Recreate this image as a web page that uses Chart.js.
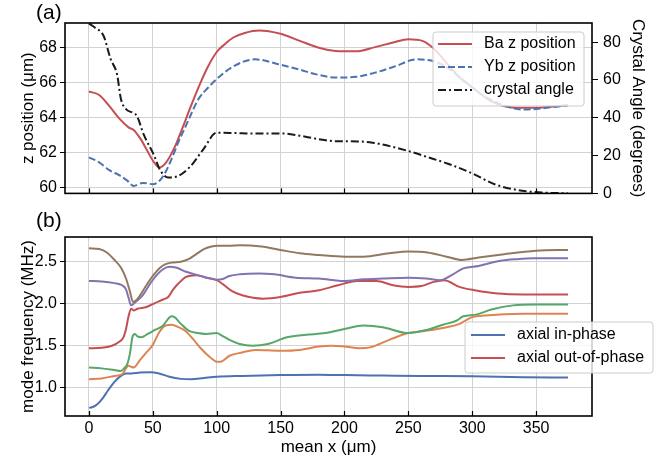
<!DOCTYPE html>
<html>
<head>
<meta charset="utf-8">
<script src="https://cdn.jsdelivr.net/npm/chart.js@4/dist/chart.umd.min.js"></script>
<style>
  body { margin: 0; background: #fff; }
  #wrap { position: relative; width: 672px; height: 466px; }
  canvas { position: absolute; left: 0; }
  #topChart { top: 0; }
  #bottomChart { top: 208px; }
</style>
</head>
<body>
<div id="wrap">
  <canvas id="topChart" width="672" height="208"></canvas>
  <canvas id="bottomChart" width="672" height="258"></canvas>
</div>
<script>
// Tick values
const xTicks = [0, 50, 100, 150, 200, 250, 300, 350];
const zTicks = [60, 62, 64, 66, 68];
const angleTicks = [0, 20, 40, 60, 80];
const freqTicks = [1.0, 1.5, 2.0, 2.5];

// (a) ion positions
const baX = [0, 8, 16, 24, 31, 35, 40, 45, 50, 55, 60, 67, 73, 80, 87, 93, 100, 107, 113, 122, 133, 150, 165, 180, 193, 209, 224, 238, 250, 261, 270, 279, 290, 300, 315, 334, 349, 365, 375];
const baZ = [65.5, 65.3, 64.66, 63.93, 63.45, 63.3, 62.83, 62.2, 61.55, 61.15, 61.4, 62.3, 63.38, 64.7, 65.95, 66.9, 67.76, 68.25, 68.59, 68.85, 68.99, 68.8, 68.4, 68.0, 67.82, 67.8, 68.04, 68.3, 68.49, 68.4, 67.95, 67.21, 66.3, 65.75, 64.93, 64.57, 64.57, 64.65, 64.72];

const ybX = [0, 8, 16, 24, 30, 35, 42, 50, 56, 60, 65, 70, 76, 86, 93, 100, 113, 130, 150, 165, 178, 193, 209, 224, 240, 256, 271, 282, 292, 303, 315, 327, 339, 350, 362, 375];
const ybZ = [61.73, 61.45, 61.0, 60.7, 60.4, 60.1, 60.27, 60.2, 60.45, 60.9, 61.7, 62.6, 63.56, 65.1, 65.7, 66.21, 66.94, 67.34, 67.03, 66.75, 66.48, 66.3, 66.34, 66.58, 66.95, 67.34, 67.21, 66.8, 66.21, 65.55, 65.02, 64.65, 64.47, 64.5, 64.6, 64.71];

const angX = [0, 5, 11.5, 17, 22, 25, 29, 35, 37.5, 43, 50.5, 55.7, 62, 69, 79, 89.5, 100, 115, 128, 152, 165, 178, 193, 210, 222, 250, 265, 281, 300, 318, 339, 354, 375];
const angDeg = [89.8, 87.5, 83.2, 71, 62.9, 50, 44.5, 42.5, 41, 30.9, 20.8, 12.3, 8.4, 9.0, 14.0, 23.3, 32.1, 31.9, 31.7, 31.7, 30.5, 28.9, 27.6, 27.5, 26.8, 22.4, 19.2, 15.7, 10.6, 4.7, 1.4, 0.5, 0];

// (b) mode frequencies
const inPhaseX = [0, 3, 7, 11, 15, 20, 25, 29, 33, 40, 48, 55, 63, 72, 80, 90, 100, 120, 150, 180, 200, 230, 260, 300, 340, 375];
const inPhase = [0.76, 0.77, 0.81, 0.88, 0.97, 1.07, 1.14, 1.17, 1.17, 1.18, 1.185, 1.17, 1.13, 1.105, 1.10, 1.115, 1.13, 1.14, 1.15, 1.155, 1.15, 1.145, 1.14, 1.135, 1.125, 1.12];

const orangeX = [0, 10, 20, 26, 29, 31, 33, 35, 40, 45, 50, 55, 60, 65, 70, 76, 82, 88, 95, 100, 103, 110, 120, 130, 150, 165, 180, 190, 200, 212, 220, 235, 250, 265, 280, 290, 300, 310, 340, 375];
const orangeF = [1.10, 1.11, 1.14, 1.16, 1.23, 1.26, 1.25, 1.24, 1.33, 1.42, 1.51, 1.66, 1.74, 1.75, 1.72, 1.67, 1.57, 1.46, 1.36, 1.31, 1.31, 1.38, 1.42, 1.45, 1.44, 1.45, 1.49, 1.50, 1.49, 1.47, 1.48, 1.57, 1.65, 1.68, 1.72, 1.76, 1.84, 1.86, 1.88, 1.88];

const greenX = [0, 10, 20, 25, 28, 30, 32, 34, 36, 38, 41, 46, 52, 58, 62, 64.5, 67, 72, 78, 85, 92, 100, 104, 110, 118, 128, 140, 155, 170, 185, 200, 215, 230, 250, 265, 277, 288, 293, 303, 315, 332, 350, 375];
const greenF = [1.24, 1.23, 1.21, 1.20, 1.24, 1.28, 1.40, 1.60, 1.64, 1.61, 1.60, 1.64, 1.69, 1.74, 1.82, 1.85, 1.84, 1.76, 1.68, 1.65, 1.64, 1.65, 1.62, 1.57, 1.52, 1.50, 1.52, 1.60, 1.63, 1.65, 1.70, 1.74, 1.72, 1.65, 1.69, 1.75, 1.80, 1.85, 1.87, 1.93, 1.98, 1.99, 1.99];

const outPhaseX = [0, 10, 18, 24, 27, 29, 31, 33, 35, 38, 45, 52, 58, 62, 66, 70, 76, 84, 92, 100, 105, 112, 120, 136, 150, 165, 180, 195, 210, 225, 238, 250, 260, 270, 278, 290, 302, 320, 340, 375];
const outPhase = [1.47, 1.475, 1.50, 1.55, 1.60, 1.70, 1.85, 1.94, 1.92, 1.94, 1.96, 2.01, 2.05, 2.08, 2.17, 2.24, 2.32, 2.34, 2.31, 2.28, 2.23, 2.15, 2.10, 2.06, 2.08, 2.13, 2.16, 2.22, 2.27, 2.27, 2.22, 2.20, 2.21, 2.26, 2.28, 2.20, 2.16, 2.12, 2.11, 2.11];

const purpleX = [0, 10, 20, 26, 29, 31, 33, 35, 38, 42, 48, 53, 58, 63, 68, 76, 85, 92, 100, 104, 110, 118, 133, 145, 162, 180, 200, 215, 230, 250, 264, 275, 285, 293, 305, 322, 335, 348, 375];
const purpleF = [2.27, 2.265, 2.245, 2.22, 2.17, 2.07, 1.98, 2.00, 2.04, 2.10, 2.24, 2.34, 2.41, 2.44, 2.43, 2.38, 2.34, 2.31, 2.285, 2.29, 2.33, 2.35, 2.36, 2.35, 2.31, 2.30, 2.27, 2.29, 2.30, 2.31, 2.30, 2.28, 2.35, 2.42, 2.45, 2.51, 2.53, 2.54, 2.54];

const brownX = [0, 8, 14, 20, 25, 29, 32, 34.5, 37, 40, 45, 50, 55, 60, 65, 72, 78, 84, 90, 96, 100, 110, 118, 135, 150, 165, 180, 200, 215, 235, 250, 265, 280, 292, 305, 325, 350, 375];
const brownF = [2.66, 2.65, 2.61, 2.52, 2.43, 2.30, 2.15, 2.02, 2.04, 2.10, 2.22, 2.33, 2.42, 2.47, 2.49, 2.50, 2.53, 2.59, 2.65, 2.68, 2.69, 2.69, 2.695, 2.68, 2.64, 2.60, 2.58, 2.56, 2.56, 2.60, 2.62, 2.61, 2.56, 2.52, 2.55, 2.59, 2.63, 2.64];

const FONT = '"Liberation Sans", Arial, sans-serif';
const GRID = '#d2d2d2';
const colors = {
    blue: '#4C72B0', orange: '#DD8452', green: '#55A868',
    red: '#C44E52', purple: '#8172B3', brown: '#937860'
};

Chart.defaults.font.family = FONT;
Chart.defaults.color = '#000';

const toPoints = (xs, ys) => xs.map((x, i) => ({ x: x, y: ys[i] }));

function line(label, xs, ys, color, extra) {
    return Object.assign({
        label: label,
        data: toPoints(xs, ys),
        borderColor: color,
        backgroundColor: color,
        borderWidth: 2,
        pointRadius: 0,
        cubicInterpolationMode: 'monotone',
        fill: false
    }, extra || {});
}

const fixedTicks = values => scale => { scale.ticks = values.map(v => ({ value: v })); };

// Frame, inward x ticks, panel letter and legend box
const framePlugin = {
    id: 'frame',
    afterDraw(chart, args, opts) {
        const { ctx, chartArea: a } = chart;
        ctx.save();
        ctx.strokeStyle = '#000';
        ctx.lineWidth = 1.2;
        chart.scales.x.ticks.forEach(t => {
            const px = Math.round(chart.scales.x.getPixelForValue(t.value)) + 0.5;
            ctx.beginPath();
            ctx.moveTo(px, a.bottom);
            ctx.lineTo(px, a.bottom - 5);
            ctx.stroke();
        });
        ctx.lineWidth = 1.6;
        ctx.strokeRect(a.left, a.top, a.right - a.left, a.bottom - a.top);

        ctx.fillStyle = '#000';
        ctx.font = '21px ' + FONT;
        ctx.textBaseline = 'middle';
        ctx.fillText(opts.letter, 36, opts.letterY);

        const lg = opts.legend;
        ctx.beginPath();
        if (ctx.roundRect) ctx.roundRect(lg.x, lg.y, lg.w, lg.h, 3);
        else ctx.rect(lg.x, lg.y, lg.w, lg.h);
        ctx.fillStyle = 'rgba(255,255,255,0.8)';
        ctx.fill();
        ctx.strokeStyle = '#cccccc';
        ctx.lineWidth = 1;
        ctx.stroke();

        ctx.font = '16px ' + FONT;
        let row = 0;
        chart.data.datasets.forEach(ds => {
            if (!ds.showInLegend) return;
            const cy = lg.y + lg.first + row * lg.step;
            ctx.strokeStyle = ds.borderColor;
            ctx.lineWidth = ds.borderWidth;
            ctx.setLineDash(ds.borderDash || []);
            ctx.beginPath();
            ctx.moveTo(lg.x + lg.sample, cy);
            ctx.lineTo(lg.x + lg.sample + 34, cy);
            ctx.stroke();
            ctx.setLineDash([]);
            ctx.fillStyle = '#000';
            ctx.fillText(ds.label, lg.x + lg.text, cy);
            row++;
        });
        ctx.restore();
    }
};

const tickFont = { size: 16, family: FONT };
const titleFont = { size: 17, family: FONT };

// Panel (a)
const topChart = new Chart(document.getElementById('topChart'), {
    type: 'line',
    data: {
        datasets: [
            line('Ba z position', baX, baZ, colors.red, { yAxisID: 'y', showInLegend: true, order: 3 }),
            line('Yb z position', ybX, ybZ, colors.blue, { yAxisID: 'y', borderDash: [7, 3], showInLegend: true, order: 2 }),
            line('crystal angle', angX, angDeg, '#1a1a1a', { yAxisID: 'y2', borderDash: [8, 3, 2, 3], showInLegend: true, order: 1 })
        ]
    },
    options: {
        responsive: false,
        animation: false,
        layout: { padding: { top: 23, left: 0, right: 0, bottom: 0 } },
        plugins: {
            legend: { display: false },
            tooltip: { enabled: false },
            frame: {
                letter: '(a)', letterY: 13,
                legend: { x: 433, y: 32, w: 151, h: 74, first: 12, step: 23, sample: 5, text: 51 }
            }
        },
        scales: {
            x: {
                type: 'linear', min: -18.75, max: 393.75,
                afterBuildTicks: fixedTicks(xTicks),
                afterFit: s => { s.height = 7; },
                ticks: { display: false },
                grid: { color: GRID, drawTicks: false },
                border: { display: false }
            },
            y: {
                position: 'left', min: 59.67, max: 69.42,
                afterBuildTicks: fixedTicks(zTicks),
                afterFit: s => { s.width = 65; },
                ticks: { font: tickFont, padding: 3, callback: v => String(v) },
                grid: { color: GRID, tickColor: '#000', tickLength: 5 },
                border: { display: false },
                title: { display: true, text: 'z position (μm)', font: titleFont, padding: { top: 18, bottom: 0 } }
            },
            y2: {
                position: 'right', min: 0, max: 90.1,
                afterBuildTicks: fixedTicks(angleTicks),
                afterFit: s => { s.width = 80; },
                ticks: { font: tickFont, padding: 5, callback: v => String(v) },
                grid: { drawOnChartArea: false, tickColor: '#000', tickLength: 6 },
                border: { display: false },
                title: { display: true, text: 'Crystal Angle (degrees)', font: titleFont, padding: { top: 24, bottom: 0 } }
            }
        }
    },
    plugins: [framePlugin]
});

// Panel (b)
const bottomChart = new Chart(document.getElementById('bottomChart'), {
    type: 'line',
    data: {
        datasets: [
            line('axial in-phase', inPhaseX, inPhase, colors.blue, { showInLegend: true, order: 6 }),
            line('', orangeX, orangeF, colors.orange, { order: 5 }),
            line('', greenX, greenF, colors.green, { order: 4 }),
            line('axial out-of-phase', outPhaseX, outPhase, colors.red, { showInLegend: true, order: 3 }),
            line('', purpleX, purpleF, colors.purple, { order: 2 }),
            line('', brownX, brownF, colors.brown, { order: 1 })
        ]
    },
    options: {
        responsive: false,
        animation: false,
        layout: { padding: { top: 29, left: 0, right: 80, bottom: 0 } },
        plugins: {
            legend: { display: false },
            tooltip: { enabled: false },
            frame: {
                letter: '(b)', letterY: 13,
                legend: { x: 465, y: 114, w: 188, h: 51, first: 13, step: 23, sample: 6, text: 52 }
            }
        },
        scales: {
            x: {
                type: 'linear', min: -18.75, max: 393.75,
                afterBuildTicks: fixedTicks(xTicks),
                afterFit: s => { s.height = 50; },
                ticks: { font: tickFont, padding: 3, maxRotation: 0, callback: v => String(v) },
                grid: { color: GRID, drawTicks: false },
                border: { display: false },
                title: { display: true, text: 'mean x (μm)', font: titleFont, padding: { top: 0, bottom: 8 } }
            },
            y: {
                position: 'left', min: 0.663, max: 2.794,
                afterBuildTicks: fixedTicks(freqTicks),
                afterFit: s => { s.width = 65; },
                ticks: { font: tickFont, padding: 3, callback: v => v.toFixed(1) },
                grid: { color: GRID, tickColor: '#000', tickLength: 5 },
                border: { display: false },
                title: { display: true, text: 'mode frequency (MHz)', font: titleFont, padding: { top: 18, bottom: 0 } }
            }
        }
    },
    plugins: [framePlugin]
});
</script>
</body>
</html>
